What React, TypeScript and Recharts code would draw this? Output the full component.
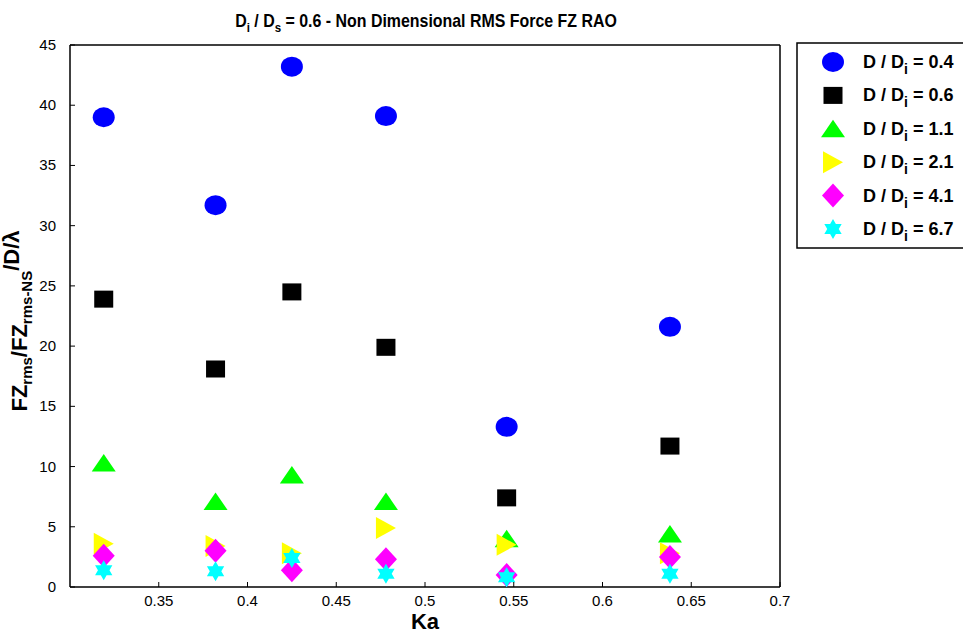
import { Scatter, ScatterChart, XAxis, YAxis } from 'recharts'

// Ka values shared by every series
const kaValues = [0.319, 0.382, 0.425, 0.478, 0.546, 0.638]

// FZrms / FZrms-NS per D/Di ratio
const ratio04 = [39.0, 31.7, 43.2, 39.1, 13.3, 21.6]
const ratio06 = [23.9, 18.1, 24.5, 19.9, 7.4, 11.7]
const ratio11 = [10.3, 7.1, 9.3, 7.1, 4.0, 4.4]
const ratio21 = [3.6, 3.4, 2.8, 4.9, 3.5, 2.8]
const ratio41 = [2.6, 3.0, 1.4, 2.3, 1.0, 2.5]
const ratio67 = [1.4, 1.3, 2.4, 1.1, 0.8, 1.1]

const ratioLabels = ['0.4', '0.6', '1.1', '2.1', '4.1', '6.7']
const xTicks = [0.35, 0.4, 0.45, 0.5, 0.55, 0.6, 0.65, 0.7]
const yTicks = [0, 5, 10, 15, 20, 25, 30, 35, 40, 45]

type Kind = 'circle' | 'square' | 'triangle' | 'right' | 'diamond' | 'hexagram'

const seriesValues = [ratio04, ratio06, ratio11, ratio21, ratio41, ratio67]
const seriesColors = ['#0000ff', '#000000', '#00ff00', '#ffff00', '#ff00ff', '#00ffff']
const seriesKinds: Kind[] = ['circle', 'square', 'triangle', 'right', 'diamond', 'hexagram']

const sans = "'Liberation Sans', Arial, sans-serif"
const narrow = "'Liberation Sans Narrow', 'Arial Narrow', 'Liberation Sans', Arial, sans-serif"
const axisStyle = { stroke: '#000', strokeWidth: 1.5 }

function Marker({ kind, cx, cy, fill }: { kind: Kind; cx: number; cy: number; fill: string }) {
  switch (kind) {
    case 'circle':
      return <ellipse cx={cx} cy={cy} rx={11} ry={10} fill={fill} />
    case 'square':
      return <rect x={cx - 9.5} y={cy - 8.5} width={19} height={17} fill={fill} />
    case 'triangle':
      return <polygon points={`${cx},${cy - 9} ${cx + 12},${cy + 8.5} ${cx - 12},${cy + 8.5}`} fill={fill} />
    case 'right':
      return <polygon points={`${cx - 10},${cy - 11} ${cx + 10},${cy} ${cx - 10},${cy + 11}`} fill={fill} />
    case 'diamond':
      return <polygon points={`${cx},${cy - 12} ${cx + 11},${cy} ${cx},${cy + 12} ${cx - 11},${cy}`} fill={fill} />
    default: {
      const pts: string[] = []
      for (let k = 0; k < 12; k++) {
        const r = k % 2 === 0 ? 10 : 10 / Math.sqrt(3)
        const a = ((-90 + k * 30) * Math.PI) / 180
        pts.push(`${cx + r * Math.cos(a)},${cy + r * Math.sin(a)}`)
      }
      return <polygon points={pts.join(' ')} fill={fill} />
    }
  }
}

function BottomTick(props: any) {
  const { x, y, payload } = props
  return (
    <g>
      <line x1={x} y1={y} x2={x} y2={y - 5} stroke="#000" />
      <text x={x} y={y + 19} textAnchor="middle" fontSize={15} fontFamily={sans} fill="#000">
        {payload.value}
      </text>
    </g>
  )
}

function LeftTick(props: any) {
  const { x, y, payload } = props
  return (
    <g>
      <line x1={x} y1={y} x2={x + 5} y2={y} stroke="#000" />
      <text x={x - 14} y={y + 5} textAnchor="end" fontSize={15} fontFamily={sans} fill="#000">
        {payload.value}
      </text>
    </g>
  )
}

function TopTick(props: any) {
  const { x, y } = props
  return <line x1={x} y1={y} x2={x} y2={y + 5} stroke="#000" />
}

function RightTick(props: any) {
  const { x, y } = props
  return <line x1={x} y1={y} x2={x - 5} y2={y} stroke="#000" />
}

export default function App() {
  return (
    <div
      style={{
        position: 'absolute',
        left: 0,
        top: 0,
        width: 963,
        height: 634,
        overflow: 'hidden',
        background: '#fff',
      }}
    >
      <ScatterChart width={963} height={634} margin={{ top: 44, right: 182, bottom: 0, left: 0 }}>
        <XAxis
          dataKey="ka"
          type="number"
          domain={[0.3, 0.7]}
          ticks={xTicks}
          interval={0}
          height={47}
          tickSize={0}
          tickMargin={0}
          tickLine={false}
          axisLine={axisStyle}
          tick={(p: any) => <BottomTick {...p} />}
          label={{
            value: 'Ka',
            position: 'insideBottom',
            offset: 5,
            fill: '#000',
            fontSize: 22,
            fontWeight: 700,
            fontFamily: narrow,
          }}
        />
        <XAxis
          xAxisId="top"
          orientation="top"
          type="number"
          domain={[0.3, 0.7]}
          ticks={xTicks}
          interval={0}
          height={1}
          tickSize={0}
          tickMargin={0}
          tickLine={false}
          axisLine={axisStyle}
          tick={(p: any) => <TopTick {...p} />}
        />
        <YAxis
          dataKey="v"
          type="number"
          domain={[0, 45]}
          ticks={yTicks}
          interval={0}
          width={70}
          tickSize={0}
          tickMargin={0}
          tickLine={false}
          axisLine={axisStyle}
          tick={(p: any) => <LeftTick {...p} />}
        />
        <YAxis
          yAxisId="right"
          orientation="right"
          type="number"
          domain={[0, 45]}
          ticks={yTicks}
          interval={0}
          width={1}
          tickSize={0}
          tickMargin={0}
          tickLine={false}
          axisLine={axisStyle}
          tick={(p: any) => <RightTick {...p} />}
        />
        {seriesValues.map((vals, i) => (
          <Scatter
            key={ratioLabels[i]}
            name={`D / Di = ${ratioLabels[i]}`}
            data={kaValues.map((ka, j) => ({ ka, v: vals[j] }))}
            fill={seriesColors[i]}
            isAnimationActive={false}
            shape={(p: any) => <Marker kind={seriesKinds[i]} cx={p.cx} cy={p.cy} fill={seriesColors[i]} />}
          />
        ))}
      </ScatterChart>

      <svg
        width={963}
        height={634}
        style={{ position: 'absolute', left: 0, top: 0, pointerEvents: 'none' }}
      >
        {/* condensed title: no narrow font installed, so squeeze horizontally */}
        <g transform="translate(426,27) scale(0.885,1)">
          <text textAnchor="middle" fontSize={18} fontWeight={700} fontFamily={narrow} fill="#000">
            D<tspan dy={5} fontSize={13}>i</tspan>
            <tspan dy={-5}>{' / D'}</tspan>
            <tspan dy={5} fontSize={13}>s</tspan>
            <tspan dy={-5}>{' = 0.6 - Non Dimensional RMS Force FZ RAO'}</tspan>
          </text>
        </g>

        <text
          transform="translate(27,321) rotate(-90)"
          textAnchor="middle"
          fontSize={22}
          fontWeight={700}
          fontFamily={narrow}
          fill="#000"
        >
          FZ<tspan dy={5} fontSize={15}>rms</tspan>
          <tspan dy={-5}>/FZ</tspan>
          <tspan dy={5} fontSize={15}>rms-NS</tspan>
          <tspan dy={-13}>/D/λ</tspan>
        </text>

        <rect x={797} y={43} width={200} height={205} fill="#fff" stroke="#000" strokeWidth={1.5} />
        {ratioLabels.map((lab, i) => {
          const cy = 62 + i * 33.4
          return (
            <g key={lab}>
              <Marker kind={seriesKinds[i]} cx={833} cy={cy} fill={seriesColors[i]} />
              <text x={863} y={cy + 6} fontSize={18} fontWeight={700} fontFamily={sans} fill="#000">
                {'D / D'}
                <tspan dy={6} fontSize={14}>i</tspan>
                <tspan dy={-6}>{` = ${lab}`}</tspan>
              </text>
            </g>
          )
        })}
      </svg>
    </div>
  )
}
